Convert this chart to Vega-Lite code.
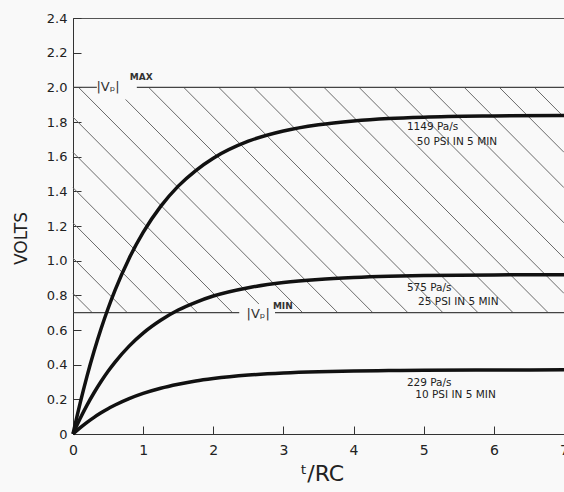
{
  "$schema": "https://vega.github.io/schema/vega-lite/v6.json",
  "width": 491,
  "height": 416,
  "autosize": {"type": "none"},
  "padding": {"left": 73, "top": 18, "right": 0, "bottom": 58},
  "background": "#f9f9f9",
  "config": {
    "view": {"stroke": "#555", "strokeWidth": 1},
    "font": "DejaVu Sans"
  },
  "datasets": {
    "curves": [
      {"series": "1149", "t": 0, "v": 0}, {"series": "1149", "t": 0.1, "v": 0.175}, {"series": "1149", "t": 0.2, "v": 0.334}, {"series": "1149", "t": 0.3, "v": 0.477}, {"series": "1149", "t": 0.4, "v": 0.607}, {"series": "1149", "t": 0.5, "v": 0.724}, {"series": "1149", "t": 0.6, "v": 0.83}, {"series": "1149", "t": 0.8, "v": 1.013}, {"series": "1149", "t": 1.0, "v": 1.163}, {"series": "1149", "t": 1.25, "v": 1.313}, {"series": "1149", "t": 1.5, "v": 1.43}, {"series": "1149", "t": 1.75, "v": 1.52}, {"series": "1149", "t": 2.0, "v": 1.591}, {"series": "1149", "t": 2.5, "v": 1.689}, {"series": "1149", "t": 3.0, "v": 1.748}, {"series": "1149", "t": 3.5, "v": 1.784}, {"series": "1149", "t": 4.0, "v": 1.806}, {"series": "1149", "t": 4.5, "v": 1.82}, {"series": "1149", "t": 5.0, "v": 1.828}, {"series": "1149", "t": 6.0, "v": 1.835}, {"series": "1149", "t": 7.0, "v": 1.838},
      {"series": "575", "t": 0, "v": 0}, {"series": "575", "t": 0.1, "v": 0.088}, {"series": "575", "t": 0.2, "v": 0.167}, {"series": "575", "t": 0.3, "v": 0.238}, {"series": "575", "t": 0.4, "v": 0.303}, {"series": "575", "t": 0.5, "v": 0.362}, {"series": "575", "t": 0.6, "v": 0.415}, {"series": "575", "t": 0.8, "v": 0.507}, {"series": "575", "t": 1.0, "v": 0.582}, {"series": "575", "t": 1.25, "v": 0.656}, {"series": "575", "t": 1.5, "v": 0.715}, {"series": "575", "t": 1.75, "v": 0.76}, {"series": "575", "t": 2.0, "v": 0.796}, {"series": "575", "t": 2.5, "v": 0.844}, {"series": "575", "t": 3.0, "v": 0.874}, {"series": "575", "t": 3.5, "v": 0.892}, {"series": "575", "t": 4.0, "v": 0.903}, {"series": "575", "t": 4.5, "v": 0.91}, {"series": "575", "t": 5.0, "v": 0.914}, {"series": "575", "t": 6.0, "v": 0.918}, {"series": "575", "t": 7.0, "v": 0.919},
      {"series": "229", "t": 0, "v": 0}, {"series": "229", "t": 0.1, "v": 0.035}, {"series": "229", "t": 0.2, "v": 0.067}, {"series": "229", "t": 0.3, "v": 0.096}, {"series": "229", "t": 0.4, "v": 0.122}, {"series": "229", "t": 0.5, "v": 0.146}, {"series": "229", "t": 0.6, "v": 0.167}, {"series": "229", "t": 0.8, "v": 0.204}, {"series": "229", "t": 1.0, "v": 0.234}, {"series": "229", "t": 1.25, "v": 0.264}, {"series": "229", "t": 1.5, "v": 0.287}, {"series": "229", "t": 1.75, "v": 0.306}, {"series": "229", "t": 2.0, "v": 0.32}, {"series": "229", "t": 2.5, "v": 0.34}, {"series": "229", "t": 3.0, "v": 0.352}, {"series": "229", "t": 3.5, "v": 0.359}, {"series": "229", "t": 4.0, "v": 0.363}, {"series": "229", "t": 4.5, "v": 0.366}, {"series": "229", "t": 5.0, "v": 0.368}, {"series": "229", "t": 6.0, "v": 0.369}, {"series": "229", "t": 7.0, "v": 0.37}
    ],
    "hatch": [
      {"t1": 0, "v1": 0.811, "t2": 0.274, "v2": 0.7},
      {"t1": 0, "v1": 1.015, "t2": 0.774, "v2": 0.7},
      {"t1": 0, "v1": 1.218, "t2": 1.274, "v2": 0.7},
      {"t1": 0, "v1": 1.421, "t2": 1.774, "v2": 0.7},
      {"t1": 0, "v1": 1.625, "t2": 2.274, "v2": 0.7},
      {"t1": 0, "v1": 1.828, "t2": 2.65, "v2": 0.75},
      {"t1": 0.078, "v1": 2.0, "t2": 3.274, "v2": 0.7},
      {"t1": 0.75, "v1": 1.93, "t2": 3.774, "v2": 0.7},
      {"t1": 1.078, "v1": 2.0, "t2": 4.274, "v2": 0.7},
      {"t1": 1.578, "v1": 2.0, "t2": 4.774, "v2": 0.7},
      {"t1": 2.078, "v1": 2.0, "t2": 5.274, "v2": 0.7},
      {"t1": 2.578, "v1": 2.0, "t2": 5.774, "v2": 0.7},
      {"t1": 3.078, "v1": 2.0, "t2": 6.274, "v2": 0.7},
      {"t1": 3.578, "v1": 2.0, "t2": 6.774, "v2": 0.7},
      {"t1": 4.078, "v1": 2.0, "t2": 7.0, "v2": 0.811},
      {"t1": 4.578, "v1": 2.0, "t2": 7.0, "v2": 1.015},
      {"t1": 5.078, "v1": 2.0, "t2": 7.0, "v2": 1.218},
      {"t1": 5.578, "v1": 2.0, "t2": 7.0, "v2": 1.421},
      {"t1": 6.078, "v1": 2.0, "t2": 7.0, "v2": 1.625},
      {"t1": 6.578, "v1": 2.0, "t2": 7.0, "v2": 1.828}
    ],
    "levels": [
      {"t1": 0, "t2": 0.34, "v": 2.0},
      {"t1": 0.91, "t2": 7.0, "v": 2.0},
      {"t1": 0, "t2": 2.37, "v": 0.7},
      {"t1": 2.88, "t2": 7.0, "v": 0.7}
    ],
    "curveLabels": [
      {"t": 4.76, "v": 1.77, "label": "1149 Pa/s"},
      {"t": 4.9, "v": 1.685, "label": "50 PSI  IN 5 MIN"},
      {"t": 4.76, "v": 0.842, "label": "575 Pa/s"},
      {"t": 4.92, "v": 0.762, "label": "25 PSI  IN 5 MIN"},
      {"t": 4.76, "v": 0.294, "label": "229 Pa/s"},
      {"t": 4.88, "v": 0.225, "label": "10 PSI  IN 5 MIN"}
    ],
    "vpLabels": [
      {"t": 0.5, "v": 2.0, "label": "|Vₚ|"},
      {"t": 2.64, "v": 0.69, "label": "|Vₚ|"}
    ],
    "supLabels": [
      {"t": 0.81, "v": 2.06, "label": "MAX"},
      {"t": 2.85, "v": 0.74, "label": "MIN"}
    ]
  },
  "layer": [
    {
      "data": {"name": "hatch"},
      "mark": {"type": "rule", "color": "#6a6a6a", "strokeWidth": 1},
      "encoding": {
        "x": {
          "field": "t1", "type": "quantitative",
          "scale": {"domain": [0, 7], "nice": false, "zero": false},
          "axis": {
            "values": [0, 0.5, 1, 1.5, 2, 2.5, 3, 3.5, 4, 4.5, 5, 5.5, 6, 6.5, 7],
            "labelExpr": "datum.value % 1 === 0 ? format(datum.value, 'd') : ''",
            "tickSize": {"condition": {"test": "datum.value % 1 === 0", "value": -8}, "value": -5},
            "tickColor": "#333",
            "domainColor": "#333",
            "grid": false,
            "labelFont": "DejaVu Sans",
            "labelFontSize": 14,
            "labelColor": "#222",
            "labelPadding": 17,
            "labelFlush": false,
            "labelOverlap": false,
            "title": "ᵗ/RC",
            "titleFont": "DejaVu Sans",
            "titleFontSize": 22,
            "titleFontWeight": "normal",
            "titleColor": "#222",
            "titleX": 249,
            "titleY": 46,
            "titleBaseline": "alphabetic",
            "titleAlign": "center"
          }
        },
        "y": {
          "field": "v1", "type": "quantitative",
          "scale": {"domain": [0, 2.4], "nice": false, "zero": false},
          "axis": {
            "values": [0, 0.2, 0.4, 0.6, 0.8, 1.0, 1.2, 1.4, 1.6, 1.8, 2.0, 2.2, 2.4],
            "tickCount": 13,
            "labelExpr": "datum.value === 0 ? '0' : format(datum.value, '.1f')",
            "tickSize": -8,
            "tickColor": "#333",
            "domainColor": "#333",
            "grid": false,
            "labelFont": "DejaVu Sans",
            "labelFontSize": 13,
            "labelColor": "#222",
            "labelPadding": 14,
            "labelFlush": false,
            "labelOverlap": false,
            "title": "VOLTS",
            "titleFont": "DejaVu Sans",
            "titleFontSize": 17,
            "titleFontWeight": "normal",
            "titleColor": "#222",
            "titleX": -47,
            "titleY": 220,
            "titleAngle": -90,
            "titleAlign": "center",
            "titleBaseline": "alphabetic"
          }
        },
        "x2": {"field": "t2"},
        "y2": {"field": "v2"}
      }
    },
    {
      "data": {"name": "levels"},
      "mark": {"type": "rule", "color": "#444", "strokeWidth": 1.2},
      "encoding": {
        "x": {"field": "t1", "type": "quantitative"},
        "x2": {"field": "t2"},
        "y": {"field": "v", "type": "quantitative"}
      }
    },
    {
      "data": {"name": "curves"},
      "mark": {"type": "line", "color": "#111", "strokeWidth": 3.5, "interpolate": "monotone"},
      "encoding": {
        "x": {"field": "t", "type": "quantitative"},
        "y": {"field": "v", "type": "quantitative"},
        "detail": {"field": "series", "type": "nominal"}
      }
    },
    {
      "data": {"name": "curveLabels"},
      "mark": {"type": "text", "align": "left", "baseline": "middle", "font": "DejaVu Sans", "fontSize": 10.5, "color": "#222"},
      "encoding": {
        "x": {"field": "t", "type": "quantitative"},
        "y": {"field": "v", "type": "quantitative"},
        "text": {"field": "label"}
      }
    },
    {
      "data": {"name": "vpLabels"},
      "mark": {"type": "text", "align": "center", "baseline": "middle", "font": "DejaVu Sans", "fontSize": 13, "color": "#333"},
      "encoding": {
        "x": {"field": "t", "type": "quantitative"},
        "y": {"field": "v", "type": "quantitative"},
        "text": {"field": "label"}
      }
    },
    {
      "data": {"name": "supLabels"},
      "mark": {"type": "text", "align": "left", "baseline": "middle", "font": "DejaVu Sans", "fontSize": 9, "fontWeight": "bold", "color": "#333"},
      "encoding": {
        "x": {"field": "t", "type": "quantitative"},
        "y": {"field": "v", "type": "quantitative"},
        "text": {"field": "label"}
      }
    }
  ]
}
